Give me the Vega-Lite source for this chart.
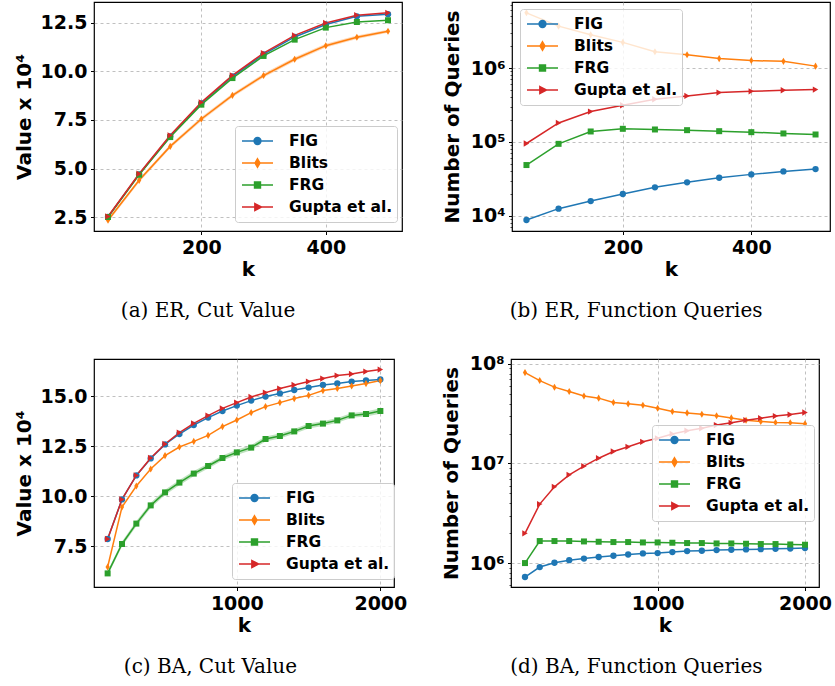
{
"$schema": "https://vega.github.io/schema/vega-lite/v6.json",
"padding": {"left": 13, "top": 1, "right": 0, "bottom": 0},
"autosize": {"type": "pad"},
"config": {
  "view": {"stroke": "black", "strokeWidth": 1.2},
  "axis": {"labelFont": "DejaVu Sans", "labelFontWeight": "bold", "labelFontSize": 19, "labelColor": "black", "titleFont": "DejaVu Sans", "titleFontWeight": "bold", "titleFontSize": 20, "titleColor": "black", "tickColor": "black", "tickSize": 3.5, "tickWidth": 1, "labelPadding": 3.5, "domain": false, "gridColor": "#b0b0b0", "gridDash": [3, 3], "gridWidth": 0.8, "labelFlush": false, "labelOverlap": false},
  "axisX": {"titlePadding": 2},
  "axisY": {"titlePadding": 6},
  "legend": {"labelFont": "DejaVu Sans", "labelFontWeight": "bold", "labelFontSize": 15.5, "labelColor": "black", "symbolSize": 961, "clipHeight": 22, "rowPadding": 0, "labelOffset": 15, "symbolOffset": 2, "padding": 4, "fillColor": "rgba(255,255,255,0.8)", "strokeColor": "#cccccc", "cornerRadius": 3, "orient": "none", "zindex": 1, "labelLimit": 300, "symbolStrokeWidth": 1.5},
  "title": {"font": "DejaVu Serif", "fontSize": 20, "fontWeight": "normal", "color": "black", "orient": "bottom", "offset": 22, "anchor": "middle", "frame": "bounds"}
},
"datasets": {
  "er_cut": [
    {"k":50,"m":"FIG","v":2.50},{"k":100,"m":"FIG","v":4.70},{"k":150,"m":"FIG","v":6.66},{"k":200,"m":"FIG","v":8.36},{"k":250,"m":"FIG","v":9.74},{"k":300,"m":"FIG","v":10.88},{"k":350,"m":"FIG","v":11.78},{"k":400,"m":"FIG","v":12.42},{"k":450,"m":"FIG","v":12.84},{"k":500,"m":"FIG","v":12.95},
    {"k":50,"m":"Blits","v":2.33,"lo":2.23,"hi":2.43},{"k":100,"m":"Blits","v":4.39,"lo":4.29,"hi":4.49},{"k":150,"m":"Blits","v":6.14,"lo":6.04,"hi":6.24},{"k":200,"m":"Blits","v":7.55,"lo":7.45,"hi":7.65},{"k":250,"m":"Blits","v":8.77,"lo":8.67,"hi":8.87},{"k":300,"m":"Blits","v":9.79,"lo":9.69,"hi":9.89},{"k":350,"m":"Blits","v":10.63,"lo":10.53,"hi":10.73},{"k":400,"m":"Blits","v":11.33,"lo":11.23,"hi":11.43},{"k":450,"m":"Blits","v":11.76,"lo":11.67,"hi":11.85},{"k":500,"m":"Blits","v":12.07,"lo":11.99,"hi":12.15},
    {"k":50,"m":"FRG","v":2.50},{"k":100,"m":"FRG","v":4.68},{"k":150,"m":"FRG","v":6.62},{"k":200,"m":"FRG","v":8.29},{"k":250,"m":"FRG","v":9.66},{"k":300,"m":"FRG","v":10.80},{"k":350,"m":"FRG","v":11.64},{"k":400,"m":"FRG","v":12.26},{"k":450,"m":"FRG","v":12.55},{"k":500,"m":"FRG","v":12.64},
    {"k":50,"m":"Gupta et al.","v":2.53},{"k":100,"m":"Gupta et al.","v":4.73},{"k":150,"m":"Gupta et al.","v":6.71},{"k":200,"m":"Gupta et al.","v":8.41},{"k":250,"m":"Gupta et al.","v":9.80},{"k":300,"m":"Gupta et al.","v":10.95},{"k":350,"m":"Gupta et al.","v":11.86},{"k":400,"m":"Gupta et al.","v":12.50},{"k":450,"m":"Gupta et al.","v":12.90},{"k":500,"m":"Gupta et al.","v":13.02}
  ],
  "er_q": [
    {"k":50,"m":"FIG","v":8830},{"k":100,"m":"FIG","v":12560},{"k":150,"m":"FIG","v":15900},{"k":200,"m":"FIG","v":19800},{"k":250,"m":"FIG","v":24400},{"k":300,"m":"FIG","v":28500},{"k":350,"m":"FIG","v":32900},{"k":400,"m":"FIG","v":36500},{"k":450,"m":"FIG","v":40000},{"k":500,"m":"FIG","v":43000},
    {"k":50,"m":"Blits","v":5570000},{"k":100,"m":"Blits","v":3680000},{"k":150,"m":"Blits","v":2810000},{"k":200,"m":"Blits","v":2220000},{"k":250,"m":"Blits","v":1660000},{"k":300,"m":"Blits","v":1510000},{"k":350,"m":"Blits","v":1340000},{"k":400,"m":"Blits","v":1260000},{"k":450,"m":"Blits","v":1230000},{"k":500,"m":"Blits","v":1060000},
    {"k":50,"m":"FRG","v":48800},{"k":100,"m":"FRG","v":94400},{"k":150,"m":"FRG","v":138700},{"k":200,"m":"FRG","v":150700},{"k":250,"m":"FRG","v":147600},{"k":300,"m":"FRG","v":144500},{"k":350,"m":"FRG","v":140000},{"k":400,"m":"FRG","v":135800},{"k":450,"m":"FRG","v":130400},{"k":500,"m":"FRG","v":126300},
    {"k":50,"m":"Gupta et al.","v":95400},{"k":100,"m":"Gupta et al.","v":181000},{"k":150,"m":"Gupta et al.","v":257500},{"k":200,"m":"Gupta et al.","v":313900},{"k":250,"m":"Gupta et al.","v":378000},{"k":300,"m":"Gupta et al.","v":419000},{"k":350,"m":"Gupta et al.","v":465000},{"k":400,"m":"Gupta et al.","v":484000},{"k":450,"m":"Gupta et al.","v":500000},{"k":500,"m":"Gupta et al.","v":511000}
  ],
  "ba_cut": [
    {"k":100,"m":"FIG","v":7.85},{"k":200,"m":"FIG","v":9.83},{"k":300,"m":"FIG","v":11.03},{"k":400,"m":"FIG","v":11.88},{"k":500,"m":"FIG","v":12.58},{"k":600,"m":"FIG","v":13.10},{"k":700,"m":"FIG","v":13.55},{"k":800,"m":"FIG","v":13.92},{"k":900,"m":"FIG","v":14.25},{"k":1000,"m":"FIG","v":14.52},{"k":1100,"m":"FIG","v":14.77},{"k":1200,"m":"FIG","v":14.97},{"k":1300,"m":"FIG","v":15.13},{"k":1400,"m":"FIG","v":15.30},{"k":1500,"m":"FIG","v":15.42},{"k":1600,"m":"FIG","v":15.55},{"k":1700,"m":"FIG","v":15.63},{"k":1800,"m":"FIG","v":15.72},{"k":1900,"m":"FIG","v":15.78},{"k":2000,"m":"FIG","v":15.83},
    {"k":100,"m":"Blits","v":6.45},{"k":200,"m":"Blits","v":9.45},{"k":300,"m":"Blits","v":10.50},{"k":400,"m":"Blits","v":11.35},{"k":500,"m":"Blits","v":12.02},{"k":600,"m":"Blits","v":12.45},{"k":700,"m":"Blits","v":12.73},{"k":800,"m":"Blits","v":13.03},{"k":900,"m":"Blits","v":13.47},{"k":1000,"m":"Blits","v":13.80},{"k":1100,"m":"Blits","v":14.17},{"k":1200,"m":"Blits","v":14.47},{"k":1300,"m":"Blits","v":14.67},{"k":1400,"m":"Blits","v":14.87},{"k":1500,"m":"Blits","v":15.03},{"k":1600,"m":"Blits","v":15.27},{"k":1700,"m":"Blits","v":15.38},{"k":1800,"m":"Blits","v":15.50},{"k":1900,"m":"Blits","v":15.62},{"k":2000,"m":"Blits","v":15.77},
    {"k":100,"m":"FRG","v":6.13,"lo":6.01,"hi":6.25},{"k":200,"m":"FRG","v":7.60,"lo":7.47,"hi":7.73},{"k":300,"m":"FRG","v":8.62,"lo":8.49,"hi":8.75},{"k":400,"m":"FRG","v":9.53,"lo":9.40,"hi":9.66},{"k":500,"m":"FRG","v":10.18,"lo":10.05,"hi":10.31},{"k":600,"m":"FRG","v":10.67,"lo":10.54,"hi":10.80},{"k":700,"m":"FRG","v":11.12,"lo":10.99,"hi":11.25},{"k":800,"m":"FRG","v":11.50,"lo":11.37,"hi":11.63},{"k":900,"m":"FRG","v":11.90,"lo":11.77,"hi":12.03},{"k":1000,"m":"FRG","v":12.18,"lo":12.05,"hi":12.31},{"k":1100,"m":"FRG","v":12.42,"lo":12.29,"hi":12.55},{"k":1200,"m":"FRG","v":12.85,"lo":12.73,"hi":12.97},{"k":1300,"m":"FRG","v":13.00,"lo":12.88,"hi":13.12},{"k":1400,"m":"FRG","v":13.23,"lo":13.11,"hi":13.35},{"k":1500,"m":"FRG","v":13.50,"lo":13.38,"hi":13.62},{"k":1600,"m":"FRG","v":13.62,"lo":13.50,"hi":13.74},{"k":1700,"m":"FRG","v":13.78,"lo":13.66,"hi":13.90},{"k":1800,"m":"FRG","v":14.03,"lo":13.91,"hi":14.15},{"k":1900,"m":"FRG","v":14.10,"lo":13.97,"hi":14.23},{"k":2000,"m":"FRG","v":14.25,"lo":14.11,"hi":14.39},
    {"k":100,"m":"Gupta et al.","v":7.85},{"k":200,"m":"Gupta et al.","v":9.83},{"k":300,"m":"Gupta et al.","v":11.03},{"k":400,"m":"Gupta et al.","v":11.90},{"k":500,"m":"Gupta et al.","v":12.60},{"k":600,"m":"Gupta et al.","v":13.17},{"k":700,"m":"Gupta et al.","v":13.63},{"k":800,"m":"Gupta et al.","v":14.02},{"k":900,"m":"Gupta et al.","v":14.38},{"k":1000,"m":"Gupta et al.","v":14.67},{"k":1100,"m":"Gupta et al.","v":14.95},{"k":1200,"m":"Gupta et al.","v":15.17},{"k":1300,"m":"Gupta et al.","v":15.37},{"k":1400,"m":"Gupta et al.","v":15.55},{"k":1500,"m":"Gupta et al.","v":15.72},{"k":1600,"m":"Gupta et al.","v":15.87},{"k":1700,"m":"Gupta et al.","v":16.02},{"k":1800,"m":"Gupta et al.","v":16.10},{"k":1900,"m":"Gupta et al.","v":16.22},{"k":2000,"m":"Gupta et al.","v":16.32}
  ],
  "ba_q": [
    {"k":100,"m":"FIG","v":724000},{"k":200,"m":"FIG","v":912000},{"k":300,"m":"FIG","v":1007000},{"k":400,"m":"FIG","v":1070000},{"k":500,"m":"FIG","v":1110000},{"k":600,"m":"FIG","v":1150000},{"k":700,"m":"FIG","v":1185000},{"k":800,"m":"FIG","v":1220000},{"k":900,"m":"FIG","v":1250000},{"k":1000,"m":"FIG","v":1260000},{"k":1100,"m":"FIG","v":1290000},{"k":1200,"m":"FIG","v":1320000},{"k":1300,"m":"FIG","v":1330000},{"k":1400,"m":"FIG","v":1350000},{"k":1500,"m":"FIG","v":1360000},{"k":1600,"m":"FIG","v":1370000},{"k":1700,"m":"FIG","v":1380000},{"k":1800,"m":"FIG","v":1390000},{"k":1900,"m":"FIG","v":1400000},{"k":2000,"m":"FIG","v":1415000},
    {"k":100,"m":"Blits","v":81800000},{"k":200,"m":"Blits","v":68000000},{"k":300,"m":"Blits","v":58400000},{"k":400,"m":"Blits","v":52800000},{"k":500,"m":"Blits","v":47700000},{"k":600,"m":"Blits","v":45300000},{"k":700,"m":"Blits","v":41000000},{"k":800,"m":"Blits","v":39700000},{"k":900,"m":"Blits","v":38500000},{"k":1000,"m":"Blits","v":35900000},{"k":1100,"m":"Blits","v":33300000},{"k":1200,"m":"Blits","v":32200000},{"k":1300,"m":"Blits","v":31200000},{"k":1400,"m":"Blits","v":30100000},{"k":1500,"m":"Blits","v":28700000},{"k":1600,"m":"Blits","v":27200000},{"k":1700,"m":"Blits","v":26400000},{"k":1800,"m":"Blits","v":25800000},{"k":1900,"m":"Blits","v":25600000},{"k":2000,"m":"Blits","v":25000000},
    {"k":100,"m":"FRG","v":1000000},{"k":200,"m":"FRG","v":1664000},{"k":300,"m":"FRG","v":1664000},{"k":400,"m":"FRG","v":1664000},{"k":500,"m":"FRG","v":1649000},{"k":600,"m":"FRG","v":1637000},{"k":700,"m":"FRG","v":1625000},{"k":800,"m":"FRG","v":1625000},{"k":900,"m":"FRG","v":1611000},{"k":1000,"m":"FRG","v":1611000},{"k":1100,"m":"FRG","v":1600000},{"k":1200,"m":"FRG","v":1588000},{"k":1300,"m":"FRG","v":1588000},{"k":1400,"m":"FRG","v":1574000},{"k":1500,"m":"FRG","v":1574000},{"k":1600,"m":"FRG","v":1563000},{"k":1700,"m":"FRG","v":1552000},{"k":1800,"m":"FRG","v":1552000},{"k":1900,"m":"FRG","v":1538000},{"k":2000,"m":"FRG","v":1528000},
    {"k":100,"m":"Gupta et al.","v":1990000},{"k":200,"m":"Gupta et al.","v":3910000},{"k":300,"m":"Gupta et al.","v":5830000},{"k":400,"m":"Gupta et al.","v":7690000},{"k":500,"m":"Gupta et al.","v":9400000},{"k":600,"m":"Gupta et al.","v":11300000},{"k":700,"m":"Gupta et al.","v":13200000},{"k":800,"m":"Gupta et al.","v":14700000},{"k":900,"m":"Gupta et al.","v":16500000},{"k":1000,"m":"Gupta et al.","v":17900000},{"k":1100,"m":"Gupta et al.","v":19800000},{"k":1200,"m":"Gupta et al.","v":21300000},{"k":1300,"m":"Gupta et al.","v":22600000},{"k":1400,"m":"Gupta et al.","v":24300000},{"k":1500,"m":"Gupta et al.","v":25600000},{"k":1600,"m":"Gupta et al.","v":27200000},{"k":1700,"m":"Gupta et al.","v":28500000},{"k":1800,"m":"Gupta et al.","v":29900000},{"k":1900,"m":"Gupta et al.","v":31000000},{"k":2000,"m":"Gupta et al.","v":32500000}
  ]
},
"spacing": 32,
"resolve": {"scale": {"color": "independent"}, "legend": {"color": "independent"}},
"vconcat": [
 {"spacing": 38,
  "resolve": {"scale": {"color": "independent"}, "legend": {"color": "independent"}},
  "hconcat": [
  {"width": 308, "height": 229,
   "title": {"text": "(a) ER, Cut Value"},
   "data": {"name": "er_cut"},
   "encoding": {
     "x": {"field": "k", "type": "quantitative", "scale": {"domain": [27.5, 522.5], "nice": false, "zero": false}, "axis": {"values": [200, 400], "format": "d", "title": "k"}}
   },
   "layer": [
    {"transform": [{"filter": "isValid(datum.lo)"}],
     "mark": {"type": "area", "opacity": 0.3, "color": "#ff7f0e"},
     "encoding": {
      "y": {"field": "lo", "type": "quantitative", "scale": {"domain": [1.78, 13.58], "nice": false, "zero": false}, "axis": {"values": [2.5, 5, 7.5, 10, 12.5], "format": ".1f", "title": "Value x 10⁴"}},
      "y2": {"field": "hi"}}},
    {"mark": {"type": "line", "strokeWidth": 1.5},
     "encoding": {
      "y": {"field": "v", "type": "quantitative"},
      "color": {"field": "m", "type": "nominal", "scale": {"domain": ["FIG", "Blits", "FRG", "Gupta et al."], "range": ["#1f77b4", "#ff7f0e", "#2ca02c", "#d62728"]}, "legend": {"title": null, "legendX": 141, "legendY": 124,
        "encode": {"symbols": {"update": {"shape": {"signal": "datum.value==='FIG' ? 'M-1,0L1,0M0.22,0A0.22,0.22,0,1,1,-0.22,0A0.22,0.22,0,1,1,0.22,0Z' : datum.value==='Blits' ? 'M-1,0L1,0M0,-0.27L0.16,0L0,0.27L-0.16,0Z' : datum.value==='FRG' ? 'M-1,0L1,0M-0.19,-0.19L0.19,-0.19L0.19,0.19L-0.19,0.19Z' : 'M-1,0L1,0M-0.17,-0.22L0.26,0L-0.17,0.22Z'"}, "fill": {"signal": "datum.value==='FIG' ? '#1f77b4' : datum.value==='Blits' ? '#ff7f0e' : datum.value==='FRG' ? '#2ca02c' : '#d62728'"}, "stroke": {"signal": "datum.value==='FIG' ? '#1f77b4' : datum.value==='Blits' ? '#ff7f0e' : datum.value==='FRG' ? '#2ca02c' : '#d62728'"}, "strokeWidth": {"value": 1.5}, "size": {"value": 961}, "opacity": {"value": 1}}}}}}}},
    {"transform": [{"filter": "datum.m==='FIG'"}], "mark": {"type": "point", "filled": true, "size": 40, "opacity": 1, "shape": "circle", "color": "#1f77b4"}, "encoding": {"y": {"field": "v", "type": "quantitative"}}},
    {"transform": [{"filter": "datum.m==='Blits'"}], "mark": {"type": "point", "filled": true, "size": 50, "opacity": 1, "shape": "M0,-1L0.6,0L0,1L-0.6,0Z", "color": "#ff7f0e"}, "encoding": {"y": {"field": "v", "type": "quantitative"}}},
    {"transform": [{"filter": "datum.m==='FRG'"}], "mark": {"type": "point", "filled": true, "size": 36, "opacity": 1, "shape": "square", "color": "#2ca02c"}, "encoding": {"y": {"field": "v", "type": "quantitative"}}},
    {"transform": [{"filter": "datum.m==='Gupta et al.'"}], "mark": {"type": "point", "filled": true, "size": 40, "opacity": 1, "shape": "triangle-right", "color": "#d62728"}, "encoding": {"y": {"field": "v", "type": "quantitative"}}}
   ]},
  {"width": 318, "height": 229,
   "title": {"text": "(b) ER, Function Queries"},
   "data": {"name": "er_q"},
   "resolve": {"axis": {"y": "independent"}},
   "encoding": {
     "x": {"field": "k", "type": "quantitative", "scale": {"domain": [27.5, 522.5], "nice": false, "zero": false}, "axis": {"values": [200, 400], "format": "d", "title": "k"}}
   },
   "layer": [
    {"mark": {"type": "line", "strokeWidth": 1.5},
     "encoding": {
      "y": {"field": "v", "type": "quantitative", "scale": {"type": "log", "domain": [6266, 7800000], "nice": false}, "axis": {"values": [10000, 100000, 1000000], "labelExpr": "'10' + (datum.value >= 500000 ? '⁶' : datum.value >= 50000 ? '⁵' : '⁴')", "title": "Number of Queries", "titlePadding": 8}},
      "color": {"field": "m", "type": "nominal", "scale": {"domain": ["FIG", "Blits", "FRG", "Gupta et al."], "range": ["#1f77b4", "#ff7f0e", "#2ca02c", "#d62728"]}, "legend": {"title": null, "legendX": 8, "legendY": 7,
        "encode": {"symbols": {"update": {"shape": {"signal": "datum.value==='FIG' ? 'M-1,0L1,0M0.22,0A0.22,0.22,0,1,1,-0.22,0A0.22,0.22,0,1,1,0.22,0Z' : datum.value==='Blits' ? 'M-1,0L1,0M0,-0.27L0.16,0L0,0.27L-0.16,0Z' : datum.value==='FRG' ? 'M-1,0L1,0M-0.19,-0.19L0.19,-0.19L0.19,0.19L-0.19,0.19Z' : 'M-1,0L1,0M-0.17,-0.22L0.26,0L-0.17,0.22Z'"}, "fill": {"signal": "datum.value==='FIG' ? '#1f77b4' : datum.value==='Blits' ? '#ff7f0e' : datum.value==='FRG' ? '#2ca02c' : '#d62728'"}, "stroke": {"signal": "datum.value==='FIG' ? '#1f77b4' : datum.value==='Blits' ? '#ff7f0e' : datum.value==='FRG' ? '#2ca02c' : '#d62728'"}, "strokeWidth": {"value": 1.5}, "size": {"value": 961}, "opacity": {"value": 1}}}}}}}},
    {"transform": [{"filter": "datum.m==='FIG'"}], "mark": {"type": "point", "filled": true, "size": 40, "opacity": 1, "shape": "circle", "color": "#1f77b4"},
     "encoding": {"y": {"field": "v", "type": "quantitative", "axis": {"orient": "left", "values": [7000, 8000, 9000, 20000, 30000, 40000, 50000, 60000, 70000, 80000, 90000, 200000, 300000, 400000, 500000, 600000, 700000, 800000, 900000, 2000000, 3000000, 4000000, 5000000, 6000000, 7000000], "labels": false, "grid": false, "tickSize": 2, "tickWidth": 0.7, "title": null}}}},
    {"transform": [{"filter": "datum.m==='Blits'"}], "mark": {"type": "point", "filled": true, "size": 50, "opacity": 1, "shape": "M0,-1L0.6,0L0,1L-0.6,0Z", "color": "#ff7f0e"}, "encoding": {"y": {"field": "v", "type": "quantitative", "axis": null}}},
    {"transform": [{"filter": "datum.m==='FRG'"}], "mark": {"type": "point", "filled": true, "size": 36, "opacity": 1, "shape": "square", "color": "#2ca02c"}, "encoding": {"y": {"field": "v", "type": "quantitative", "axis": null}}},
    {"transform": [{"filter": "datum.m==='Gupta et al.'"}], "mark": {"type": "point", "filled": true, "size": 40, "opacity": 1, "shape": "triangle-right", "color": "#d62728"}, "encoding": {"y": {"field": "v", "type": "quantitative", "axis": null}}}
   ]}
 ]},
 {"spacing": 32,
  "resolve": {"scale": {"color": "independent"}, "legend": {"color": "independent"}},
  "hconcat": [
  {"width": 300, "height": 228,
   "title": {"text": "(c) BA, Cut Value"},
   "data": {"name": "ba_cut"},
   "encoding": {
     "x": {"field": "k", "type": "quantitative", "scale": {"domain": [5, 2095], "nice": false, "zero": false}, "axis": {"values": [1000, 2000], "format": "d", "title": "k"}}
   },
   "layer": [
    {"transform": [{"filter": "isValid(datum.lo)"}],
     "mark": {"type": "area", "opacity": 0.3, "color": "#2ca02c"},
     "encoding": {
      "y": {"field": "lo", "type": "quantitative", "scale": {"domain": [5.45, 16.85], "nice": false, "zero": false}, "axis": {"values": [7.5, 10, 12.5, 15], "format": ".1f", "title": "Value x 10⁴"}},
      "y2": {"field": "hi"}}},
    {"mark": {"type": "line", "strokeWidth": 1.5},
     "encoding": {
      "y": {"field": "v", "type": "quantitative"},
      "color": {"field": "m", "type": "nominal", "scale": {"domain": ["FIG", "Blits", "FRG", "Gupta et al."], "range": ["#1f77b4", "#ff7f0e", "#2ca02c", "#d62728"]}, "legend": {"title": null, "legendX": 138, "legendY": 124,
        "encode": {"symbols": {"update": {"shape": {"signal": "datum.value==='FIG' ? 'M-1,0L1,0M0.22,0A0.22,0.22,0,1,1,-0.22,0A0.22,0.22,0,1,1,0.22,0Z' : datum.value==='Blits' ? 'M-1,0L1,0M0,-0.27L0.16,0L0,0.27L-0.16,0Z' : datum.value==='FRG' ? 'M-1,0L1,0M-0.19,-0.19L0.19,-0.19L0.19,0.19L-0.19,0.19Z' : 'M-1,0L1,0M-0.17,-0.22L0.26,0L-0.17,0.22Z'"}, "fill": {"signal": "datum.value==='FIG' ? '#1f77b4' : datum.value==='Blits' ? '#ff7f0e' : datum.value==='FRG' ? '#2ca02c' : '#d62728'"}, "stroke": {"signal": "datum.value==='FIG' ? '#1f77b4' : datum.value==='Blits' ? '#ff7f0e' : datum.value==='FRG' ? '#2ca02c' : '#d62728'"}, "strokeWidth": {"value": 1.5}, "size": {"value": 961}, "opacity": {"value": 1}}}}}}}},
    {"transform": [{"filter": "datum.m==='FIG'"}], "mark": {"type": "point", "filled": true, "size": 40, "opacity": 1, "shape": "circle", "color": "#1f77b4"}, "encoding": {"y": {"field": "v", "type": "quantitative"}}},
    {"transform": [{"filter": "datum.m==='Blits'"}], "mark": {"type": "point", "filled": true, "size": 50, "opacity": 1, "shape": "M0,-1L0.6,0L0,1L-0.6,0Z", "color": "#ff7f0e"}, "encoding": {"y": {"field": "v", "type": "quantitative"}}},
    {"transform": [{"filter": "datum.m==='FRG'"}], "mark": {"type": "point", "filled": true, "size": 36, "opacity": 1, "shape": "square", "color": "#2ca02c"}, "encoding": {"y": {"field": "v", "type": "quantitative"}}},
    {"transform": [{"filter": "datum.m==='Gupta et al.'"}], "mark": {"type": "point", "filled": true, "size": 40, "opacity": 1, "shape": "triangle-right", "color": "#d62728"}, "encoding": {"y": {"field": "v", "type": "quantitative"}}}
   ]},
  {"width": 308, "height": 228,
   "title": {"text": "(d) BA, Function Queries"},
   "data": {"name": "ba_q"},
   "resolve": {"axis": {"y": "independent"}},
   "encoding": {
     "x": {"field": "k", "type": "quantitative", "scale": {"domain": [5, 2095], "nice": false, "zero": false}, "axis": {"values": [1000, 2000], "format": "d", "title": "k"}}
   },
   "layer": [
    {"mark": {"type": "line", "strokeWidth": 1.5},
     "encoding": {
      "y": {"field": "v", "type": "quantitative", "scale": {"type": "log", "domain": [575000, 112000000], "nice": false}, "axis": {"values": [1000000, 10000000, 100000000], "labelExpr": "'10' + (datum.value >= 50000000 ? '⁸' : datum.value >= 5000000 ? '⁷' : '⁶')", "title": "Number of Queries", "titlePadding": 8}},
      "color": {"field": "m", "type": "nominal", "scale": {"domain": ["FIG", "Blits", "FRG", "Gupta et al."], "range": ["#1f77b4", "#ff7f0e", "#2ca02c", "#d62728"]}, "legend": {"title": null, "legendX": 141, "legendY": 66,
        "encode": {"symbols": {"update": {"shape": {"signal": "datum.value==='FIG' ? 'M-1,0L1,0M0.22,0A0.22,0.22,0,1,1,-0.22,0A0.22,0.22,0,1,1,0.22,0Z' : datum.value==='Blits' ? 'M-1,0L1,0M0,-0.27L0.16,0L0,0.27L-0.16,0Z' : datum.value==='FRG' ? 'M-1,0L1,0M-0.19,-0.19L0.19,-0.19L0.19,0.19L-0.19,0.19Z' : 'M-1,0L1,0M-0.17,-0.22L0.26,0L-0.17,0.22Z'"}, "fill": {"signal": "datum.value==='FIG' ? '#1f77b4' : datum.value==='Blits' ? '#ff7f0e' : datum.value==='FRG' ? '#2ca02c' : '#d62728'"}, "stroke": {"signal": "datum.value==='FIG' ? '#1f77b4' : datum.value==='Blits' ? '#ff7f0e' : datum.value==='FRG' ? '#2ca02c' : '#d62728'"}, "strokeWidth": {"value": 1.5}, "size": {"value": 961}, "opacity": {"value": 1}}}}}}}},
    {"transform": [{"filter": "datum.m==='FIG'"}], "mark": {"type": "point", "filled": true, "size": 40, "opacity": 1, "shape": "circle", "color": "#1f77b4"},
     "encoding": {"y": {"field": "v", "type": "quantitative", "axis": {"orient": "left", "values": [600000, 700000, 800000, 900000, 2000000, 3000000, 4000000, 5000000, 6000000, 7000000, 8000000, 9000000, 20000000, 30000000, 40000000, 50000000, 60000000, 70000000, 80000000, 90000000], "labels": false, "grid": false, "tickSize": 2, "tickWidth": 0.7, "title": null}}}},
    {"transform": [{"filter": "datum.m==='Blits'"}], "mark": {"type": "point", "filled": true, "size": 50, "opacity": 1, "shape": "M0,-1L0.6,0L0,1L-0.6,0Z", "color": "#ff7f0e"}, "encoding": {"y": {"field": "v", "type": "quantitative", "axis": null}}},
    {"transform": [{"filter": "datum.m==='FRG'"}], "mark": {"type": "point", "filled": true, "size": 36, "opacity": 1, "shape": "square", "color": "#2ca02c"}, "encoding": {"y": {"field": "v", "type": "quantitative", "axis": null}}},
    {"transform": [{"filter": "datum.m==='Gupta et al.'"}], "mark": {"type": "point", "filled": true, "size": 40, "opacity": 1, "shape": "triangle-right", "color": "#d62728"}, "encoding": {"y": {"field": "v", "type": "quantitative", "axis": null}}}
   ]}
 ]}
]
}
